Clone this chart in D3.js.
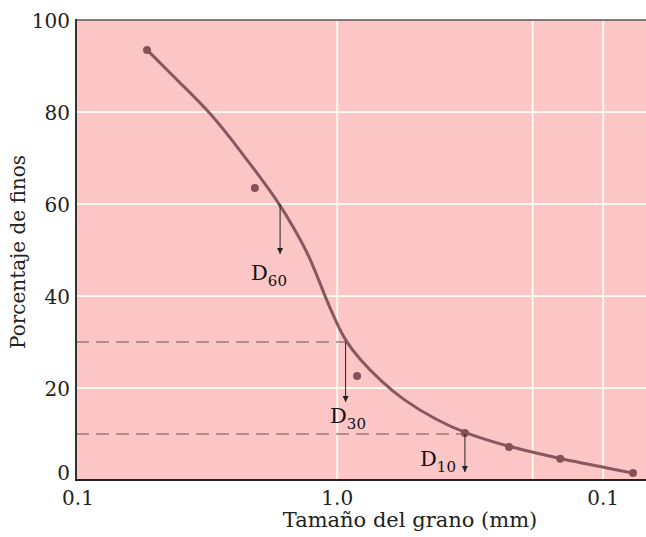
<!DOCTYPE html>
<html><head><meta charset="utf-8">
<script src="https://cdn.jsdelivr.net/npm/d3@7"></script>
<style>body{margin:0;background:#fff}svg{display:block}</style>
</head><body>
<script>
// Data (grain size in mm, percent finer)
const pointSizes = [5.19, 2.04, 0.842, 0.331, 0.226, 0.145, 0.0772];
const pointPct   = [93.5, 63.5, 22.6, 10.2, 7.2, 4.6, 1.5];
const curveSizes = [5.19, 3.9, 3.01, 2.32, 1.64, 1.441, 1.266, 1.111, 1.004, 0.935, 0.821, 0.69, 0.566, 0.42, 0.331, 0.226, 0.145, 0.0772];
const curvePct   = [93.5, 86.3, 80, 71.7, 60, 54.3, 48.5, 39.8, 34.1, 30.4, 26.1, 21.7, 17.4, 12.9, 10.2, 7.2, 4.6, 1.5];
const yTicks = [0, 20, 40, 60, 80, 100];
const xTickValues = [9.6, 1, 0.1];
const xTickLabels = ["0.1", "1.0", "0.1"];
const xGrid = [1, 0.184, 0.1];
const dMarks = [ {p: 60, d: 1.64, label: "60"}, {p: 30, d: 0.93, label: "30"}, {p: 10, d: 0.331, label: "10"} ];

const W = 646, H = 537;
const L = 76, T = 20, R = 646, B = 480;
const svg = d3.select("body").append("svg").attr("width", W).attr("height", H);
const x = d3.scaleLog().domain([9.6, 0.069]).range([L, R]);
const y = d3.scaleLinear().domain([0, 100]).range([B, T]);
const font = "'DejaVu Serif', serif";

svg.append("defs").append("marker").attr("id","ah").attr("viewBox","0 0 10 10")
  .attr("refX",10).attr("refY",5).attr("markerWidth",6).attr("markerHeight",8)
  .attr("markerUnits","userSpaceOnUse").attr("orient","auto")
  .append("path").attr("d","M0,0 L10,5 L0,10 Z").attr("fill","#222");

svg.append("rect").attr("x",L).attr("y",T).attr("width",R-L).attr("height",B-T).attr("fill","#fcc6c7");

// grid
svg.selectAll(".hg").data(yTicks.filter(d=>d>0 && d<100)).join("line")
  .attr("x1",L).attr("x2",R).attr("y1",d=>y(d)).attr("y2",d=>y(d))
  .attr("stroke","#fff8f0").attr("stroke-width",2);
svg.selectAll(".vg").data(xGrid).join("line")
  .attr("x1",d=>x(d)).attr("x2",d=>x(d)).attr("y1",T).attr("y2",B)
  .attr("stroke","#fff8f0").attr("stroke-width",2);

// dashed lines
[30, 10].forEach(p => {
  const m = dMarks.find(k=>k.p===p);
  svg.append("line").attr("x1",L).attr("x2",x(m.d)).attr("y1",y(p)).attr("y2",y(p))
    .attr("stroke","#6e5254").attr("stroke-width",1.2).attr("stroke-dasharray","13,7");
});

// curve
const line = d3.line().x((d,i)=>x(curveSizes[i])).y((d,i)=>y(curvePct[i])).curve(d3.curveBasis);
svg.append("path").datum(curvePct).attr("d",line).attr("fill","none")
  .attr("stroke","#875860").attr("stroke-width",3);

svg.selectAll(".pt").data(pointPct).join("circle")
  .attr("cx",(d,i)=>x(pointSizes[i])).attr("cy",d=>y(d)).attr("r",4).attr("fill","#8a5059");

// arrows
const arrowLen = {60: 50, 30: 60, 10: 38};
dMarks.forEach(m => {
  svg.append("line").attr("x1",x(m.d)).attr("x2",x(m.d)).attr("y1",y(m.p)).attr("y2",y(m.p)+arrowLen[m.p])
    .attr("stroke","#222").attr("stroke-width",1).attr("marker-end","url(#ah)");
});
const labelPos = {60: [251, 280], 30: [330, 423], 10: [420, 466]};
dMarks.forEach(m => {
  const t = svg.append("text").attr("x",labelPos[m.p][0]).attr("y",labelPos[m.p][1])
    .attr("font-family",font).attr("font-size",21).attr("fill","#111");
  t.append("tspan").text("D");
  t.append("tspan").attr("dy",6).attr("font-size",15).text(m.label);
});

// axes
svg.append("line").attr("x1",L).attr("x2",R).attr("y1",T).attr("y2",T).attr("stroke","#555").attr("stroke-width",1.5);
svg.append("line").attr("x1",L).attr("x2",L).attr("y1",T-1).attr("y2",B+1).attr("stroke","#333").attr("stroke-width",2);
svg.append("line").attr("x1",L-1).attr("x2",R).attr("y1",B).attr("y2",B).attr("stroke","#222").attr("stroke-width",2);

svg.selectAll(".yl").data(yTicks).join("text")
  .attr("x",70).attr("y",d=>d===0? y(d)-7 : y(d)+1).attr("dy","0.35em").attr("text-anchor","end")
  .attr("font-family",font).attr("font-size",20).attr("fill","#222").text(d=>d);
svg.selectAll(".xl").data(xTickValues).join("text")
  .attr("x",(d,i)=> i===0 ? x(d)+2 : x(d)).attr("y",505).attr("text-anchor","middle")
  .attr("font-family",font).attr("font-size",20).attr("fill","#222").text((d,i)=>xTickLabels[i]);

svg.append("text").attr("x",410).attr("y",527).attr("text-anchor","middle")
  .attr("font-family",font).attr("font-size",21).attr("fill","#222").text("Tamaño del grano (mm)");
svg.append("text").attr("transform","translate(25,252) rotate(-90)").attr("text-anchor","middle")
  .attr("font-family",font).attr("font-size",20).attr("fill","#222").text("Porcentaje de finos");
</script>
</body></html>
